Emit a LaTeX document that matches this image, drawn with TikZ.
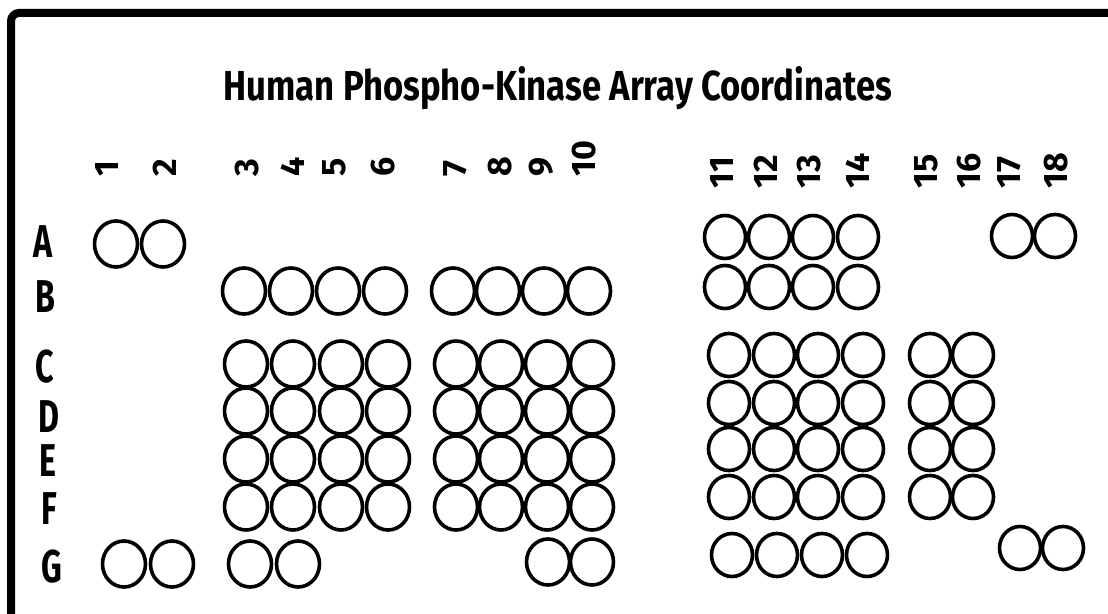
\documentclass[tikz,border=0pt]{standalone}
\usepackage{fontspec}
\setmainfont{Fira Sans}
\newfontfamily\condfont{Fira Sans}[FakeStretch=0.7]
\newfontfamily\numfont{Fira Sans}
\tikzset{
  rowlabel/.style={font=\condfont\bfseries\fontsize{23}{23}\selectfont, inner sep=0pt},
  collabel/.style={font=\numfont\bfseries\fontsize{17}{17}\selectfont, rotate=90, anchor=west, inner sep=0pt},
}
\begin{document}
\begin{tikzpicture}[x=0.5pt, y=-0.5pt, line width=1.8pt]
  \useasboundingbox (0,0) rectangle (1108,614);
  \fill[white] (0,0) rectangle (1108,614);
  \draw[line width=4pt, rounded corners=4pt] (11,640) -- (11,13) -- (1130,13);
  \node[anchor=base west, inner sep=0pt] (title) at (222,101)
    {\resizebox{334pt}{17pt}{\condfont\bfseries Human Phospho-Kinase Array Coordinates}};
  % column numbers
  \foreach \n/\x in {1/107, 2/165, 3/247, 4/293, 5/334, 6/383, 7/455, 8/500, 9/541, 10/584}
    \node[collabel] (col\n) at (\x,178) {\n};
  \foreach \n/\x in {11/722, 12/766, 13/809, 14/858, 15/926, 16/969, 17/1009, 18/1056}
    \node[collabel] (col\n) at (\x,190) {\n};
  % row letters
  \foreach \r/\x/\y in {A/43/242, B/45/297, C/45/367, D/49/417, E/48/461, F/49/509, G/52/567}
    \node[rowlabel] (row\r) at (\x,\y) {\r};
  % spots, left half
  \foreach \x/\y in {116/244, 163/244, 124/564, 172/564, 250/564, 298/564, 548/562, 592/562}
    \draw (\x,\y) ellipse [x radius=21.5, y radius=23];
  \foreach \x in {244,291,338,385,453,498,544,589}
    \draw (\x,291) ellipse [x radius=21.5, y radius=23];
  \foreach \y in {364,411,459,507}
    \foreach \x in {246,293,341,388,456,501,547,592}
      \draw (\x,\y) ellipse [x radius=21.5, y radius=23];
  % spots, right half
  \foreach \y in {237,287}
    \foreach \x in {725,769,813,858}
      \draw (\x,\y) ellipse [x radius=20.5, y radius=21.5];
  \foreach \y in {355,403,449,497}
    \foreach \x in {729,774,818,863,930,973}
      \draw (\x,\y) ellipse [x radius=20.5, y radius=21.5];
  \foreach \x in {732,777,822,867}
    \draw (\x,555) ellipse [x radius=20.5, y radius=21.5];
  \foreach \x/\y in {1012/236, 1055/236, 1020/548, 1063/548}
    \draw (\x,\y) ellipse [x radius=20.5, y radius=21.5];
\end{tikzpicture}
\end{document}
